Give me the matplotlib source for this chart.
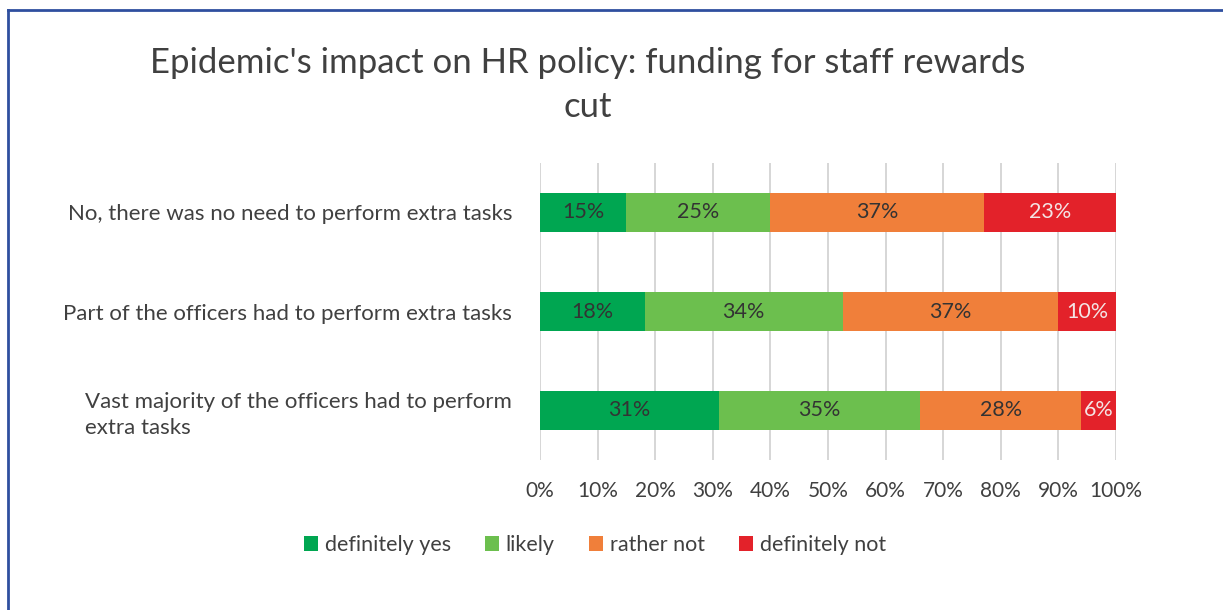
import numpy as np
import matplotlib.pyplot as plt
from matplotlib.lines import Line2D

plt.rcParams['font.family'] = ['Lato', 'DejaVu Sans']

# Data (bottom to top)
categories = ['Vast majority of the officers had to perform\nextra tasks',
              'Part of the officers had to perform extra tasks',
              'No, there was no need to perform extra tasks']
series = ['definitely yes', 'likely', 'rather not', 'definitely not']
definitely_yes = [31, 18, 15]
likely = [35, 34, 25]
rather_not = [28, 37, 37]
definitely_not = [6, 10, 23]

colors = ['#00a651', '#6cbf4e', '#f07f3a', '#e3222a']
text_colors = ['#333333', '#333333', '#333333', '#f4e4e4']
dark = '#404040'

values = np.array([definitely_yes, likely, rather_not, definitely_not], dtype=float)
shares = values / values.sum(axis=0) * 100  # 100% stacked

fig = plt.figure(figsize=(12.23, 6.1), dpi=100)
ax = fig.add_axes([540 / 1223, 1 - 460 / 610, 576 / 1223, 297 / 610])

y = np.arange(len(categories))
left = np.zeros(len(categories))
for i, name in enumerate(series):
    ax.barh(y, shares[i], left=left, height=0.4, color=colors[i], label=name, zorder=3)
    for j in range(len(categories)):
        ax.text(left[j] + shares[i][j] / 2, y[j], f'{values[i][j]:.0f}%',
                ha='center', va='center', fontsize=15.5, color=text_colors[i], zorder=4)
    left += shares[i]

ax.set_xlim(0, 100)
ax.set_ylim(-0.5, 2.5)
ax.set_xticks(np.arange(0, 101, 10))
ax.set_xticklabels([f'{t}%' for t in range(0, 101, 10)])
ax.set_yticks(y)
ax.set_yticklabels(categories)
ax.tick_params(axis='both', length=0, labelcolor=dark)
ax.tick_params(axis='x', pad=15, labelsize=15)
ax.tick_params(axis='y', pad=20, labelsize=16)
for lbl in ax.get_yticklabels():
    lbl.set_multialignment('left')
    lbl.set_linespacing(1.35)
ax.grid(axis='x', color='#d0d0d0', linewidth=1.2, zorder=0)
for s in ax.spines.values():
    s.set_visible(False)

fig.text(588 / 1223, 1 - 85 / 610, "Epidemic's impact on HR policy: funding for staff rewards\ncut",
         ha='center', va='center', fontsize=25, color=dark, linespacing=1.45)

ax.legend(loc='center', bbox_to_anchor=(595 / 1223, 1 - 545 / 610),
          bbox_transform=fig.transFigure, ncol=4, frameon=False, fontsize=15.5,
          handlelength=0.65, handleheight=0.65, handletextpad=0.3, columnspacing=1.6,
          labelcolor=dark)

# blue frame at top and left
fig.add_artist(Line2D([8 / 1223, 1], [1 - 10 / 610, 1 - 10 / 610],
                      transform=fig.transFigure, color='#2f4f9f', linewidth=2))
fig.add_artist(Line2D([8 / 1223, 8 / 1223], [0, 1 - 10 / 610],
                      transform=fig.transFigure, color='#2f4f9f', linewidth=2))

fig.savefig('out.png', dpi=100)
